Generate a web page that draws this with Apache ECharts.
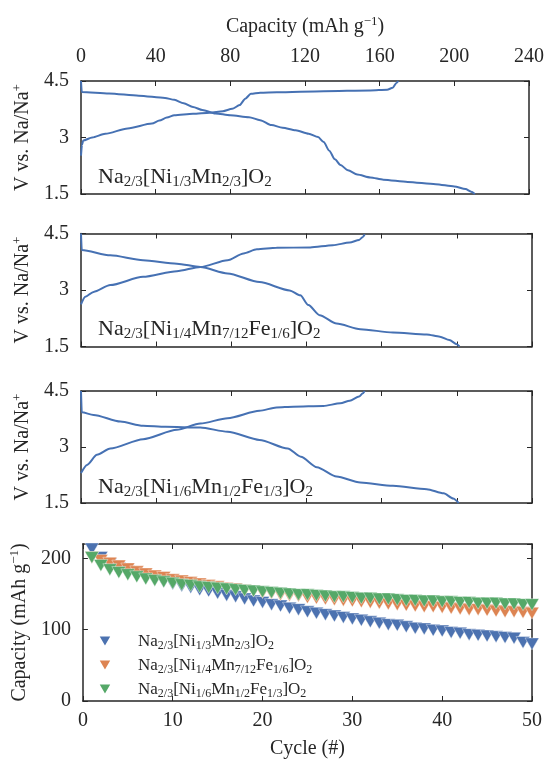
<!DOCTYPE html>
<html>
<head>
<meta charset="utf-8">
<script src="https://cdn.jsdelivr.net/npm/echarts@6/dist/echarts.min.js"></script>
<style>
  html, body { margin: 0; background: #fff; }
  #chart { width: 547px; height: 761px; }
</style>
</head>
<body>
<div id="chart"></div>
<script>
// voltage profiles, [capacity mAh/g, V]
const p1Charge = [[0,2.52],[0.5,2.8],[1.2,2.92],[6,3.0],[13,3.1],[25,3.24],[38,3.37],[42,3.45],[46,3.53],[50,3.59],[60,3.63],[69,3.66],[76,3.7],[81,3.76],[85,3.86],[88,4.03],[91,4.16],[96,4.19],[105,4.2],[130,4.23],[155,4.25],[164,4.27],[167,4.32],[169,4.45],[170,4.5]]
const p1Discharge = [[0,4.5],[0.4,4.21],[15,4.17],[31,4.11],[45,4.05],[50,4.0],[55,3.91],[60,3.81],[65,3.73],[72,3.64],[80,3.59],[90,3.54],[96,3.46],[102,3.33],[108,3.26],[115,3.19],[122,3.1],[127,3.01],[130,2.88],[133,2.65],[136,2.42],[139,2.27],[143,2.13],[148,2.02],[155,1.94],[162,1.88],[175,1.82],[190,1.76],[200,1.7],[206,1.63],[209,1.56],[211,1.5]]
const p2Charge = [[0,2.62],[2.3,2.82],[6.7,2.95],[15.6,3.13],[33,3.35],[51,3.5],[63.5,3.61],[78,3.79],[86.5,3.97],[93.6,4.08],[104,4.12],[122,4.13],[134,4.19],[143,4.26],[148,4.33],[150,4.41],[151,4.48]]
const p2Discharge = [[0,4.5],[0.4,4.06],[15.6,3.92],[33,3.79],[51,3.7],[63.5,3.61],[78,3.44],[95,3.21],[111,2.99],[116.7,2.86],[121,2.6],[127,2.33],[136,2.11],[148.6,1.96],[166,1.87],[184,1.82],[191,1.76],[196,1.67],[200,1.56],[201.4,1.5]]
const p3Charge = [[0,2.3],[3.2,2.52],[8.5,2.79],[15.6,2.96],[33,3.21],[51,3.46],[63.5,3.63],[78,3.77],[95,3.97],[104,4.06],[113,4.08],[129,4.1],[138,4.17],[143,4.24],[148,4.35],[150,4.44],[151,4.5]]
const p3Discharge = [[0,4.5],[0.4,3.93],[6.7,3.86],[21,3.68],[33,3.57],[45,3.54],[63.5,3.52],[78,3.41],[95,3.19],[110,2.96],[117,2.74],[125.5,2.46],[136,2.21],[148.6,2.05],[166,1.96],[184,1.87],[193,1.76],[198,1.62],[201,1.5]]

// discharge capacity per cycle (cycles 1..50)
const capNi13 = [213,201,192,186,181,177,173,170,167,164,161,159,156,154,151,148,146,143,140,138,135,133,130,128,125,123,121,119,117,115,113,111,109,107,106,104,102,101,99,98,96,95,93,92,91,90,89,88,82,80]
const capFe16 = [201,197,193,189,185,181,178,175,173,170,168,166,164,162,160,158,157,155,154,152,151,149,148,147,145,144,143,142,141,140,139,138,137,136,135,134,133,132,132,131,130,129,128,128,127,126,125,125,124,123]
const capFe13 = [201,190,184,180,177,174,171,169,167,165,163,162,160,159,158,157,156,155,154,153,152,151,150,149,149,148,147,146,146,145,144,144,143,143,142,141,141,140,140,139,139,138,138,137,137,137,136,136,135,135]

const names = ['Ni13', 'Fe16', 'Fe13']
const formulas = [
  '{n|Na}{s|2/3}{n|[Ni}{s|1/3}{n|Mn}{s|2/3}{n|]O}{s|2}',
  '{n|Na}{s|2/3}{n|[Ni}{s|1/4}{n|Mn}{s|7/12}{n|Fe}{s|1/6}{n|]O}{s|2}',
  '{n|Na}{s|2/3}{n|[Ni}{s|1/6}{n|Mn}{s|1/2}{n|Fe}{s|1/3}{n|]O}{s|2}'
]
const colors = ['#4c72b0', '#dd8452', '#55a868']

const FONT = 'Liberation Serif'
const INK = '#262626'

const chemRich = (m, s) => ({
  n: { fontSize: m, lineHeight: m + 4, fontFamily: FONT, fontWeight: 'normal', color: INK },
  s: { fontSize: s, lineHeight: s - 2, verticalAlign: 'bottom', fontFamily: FONT, fontWeight: 'normal', color: INK },
  g: { width: 21 }
})
const supRich = {
  n: { fontSize: 20, lineHeight: 24, fontFamily: FONT, color: INK },
  p: { fontSize: 13, lineHeight: 11, verticalAlign: 'top', fontFamily: FONT, color: INK }
}

const grids = [
  { left: 81, right: 15, top: 81, height: 113 },
  { left: 81, right: 15, top: 233.5, height: 113 },
  { left: 81, right: 15, top: 391, height: 112 },
  { left: 81, right: 15, top: 544, height: 157 }
]

const line = { show: true, onZero: false, lineStyle: { color: INK, width: 1.5 } }
const tick = { show: true, inside: true, length: 5, lineStyle: { color: INK, width: 1 } }
const label = { color: INK, fontFamily: FONT, fontSize: 20 }

function axis(gridIndex, position, range, extra) {
  return Object.assign({
    type: 'value', gridIndex, position,
    min: range[0], max: range[1], interval: range[2],
    axisLine: line, axisTick: tick,
    axisLabel: { show: false },
    splitLine: { show: false }
  }, extra || {})
}

const xAxes = []
const yAxes = []
for (let g = 0; g < 3; g++) {
  xAxes.push(axis(g, 'bottom', [0, 240, 40]))
  xAxes.push(axis(g, 'top', [0, 240, 40], g === 0 ? {
    axisLabel: Object.assign({ show: true, margin: 14 }, label),
    name: '{n|Capacity (mAh g}{p|−1}{n|)}',
    nameLocation: 'middle', nameGap: 42,
    nameTextStyle: { rich: supRich }
  } : {}))
  yAxes.push(axis(g, 'left', [1.5, 4.5, 1.5], {
    axisLabel: Object.assign({ show: true, margin: 12 }, label),
    name: '{n|V vs. Na/Na}{p|+}',
    nameLocation: 'middle', nameGap: 44,
    nameTextStyle: { rich: supRich }
  }))
  yAxes.push(axis(g, 'right', [1.5, 4.5, 1.5]))
}
xAxes.push(axis(3, 'bottom', [0, 50, 10], {
  axisLabel: Object.assign({ show: true, margin: 10 }, label),
  name: 'Cycle (#)', nameLocation: 'middle', nameGap: 38,
  nameTextStyle: { color: INK, fontFamily: FONT, fontSize: 20 }
}))
xAxes.push(axis(3, 'top', [0, 50, 10]))
yAxes.push(axis(3, 'left', [0, 220, 100], {
  axisLabel: Object.assign({ show: true, margin: 12, showMaxLabel: false }, label),
  name: '{n|Capacity (mAh g}{p|−1}{n|)}',
  nameLocation: 'middle', nameGap: 44,
  nameTextStyle: { rich: supRich }
}))
yAxes.push(axis(3, 'right', [0, 220, 100]))

const profiles = [[p1Charge, p1Discharge], [p2Charge, p2Discharge], [p3Charge, p3Discharge]]
const series = []
profiles.forEach((pair, g) => {
  pair.forEach(data => {
    series.push({
      type: 'line', xAxisIndex: 2 * g, yAxisIndex: 2 * g, data,
      showSymbol: false, smooth: 0.25, smoothMonotone: 'x',
      lineStyle: { color: '#4671b3', width: 2 }, silent: true
    })
  })
})
;[capNi13, capFe16, capFe13].forEach((caps, i) => {
  series.push({
    name: names[i], type: 'scatter', xAxisIndex: 6, yAxisIndex: 6,
    data: caps.map((v, k) => [k + 1, v]),
    symbol: 'path://M0,0L10,0L5,8.6Z', symbolSize: [14, 12],
    itemStyle: { color: colors[i], opacity: 1, borderColor: '#fff', borderWidth: 0.4 }
  })
})

const labelTops = [164, 316, 474]
const chart = echarts.init(document.getElementById('chart'))
chart.setOption({
  animation: false,
  color: colors,
  grid: grids,
  xAxis: xAxes,
  yAxis: yAxes,
  title: formulas.map((f, i) => ({
    text: f, left: 98, top: labelTops[i], padding: 0,
    textStyle: { fontWeight: 'normal', rich: chemRich(22, 15) }
  })),
  legend: {
    data: names, orient: 'vertical', left: 92, top: 628,
    itemWidth: 14, itemHeight: 12, itemGap: 5,
    icon: 'path://M0,0L10,0L5,8.6Z',
    formatter: name => '{g| }' + formulas[names.indexOf(name)],
    textStyle: { rich: chemRich(17, 12) }
  },
  series
})
</script>
</body>
</html>
